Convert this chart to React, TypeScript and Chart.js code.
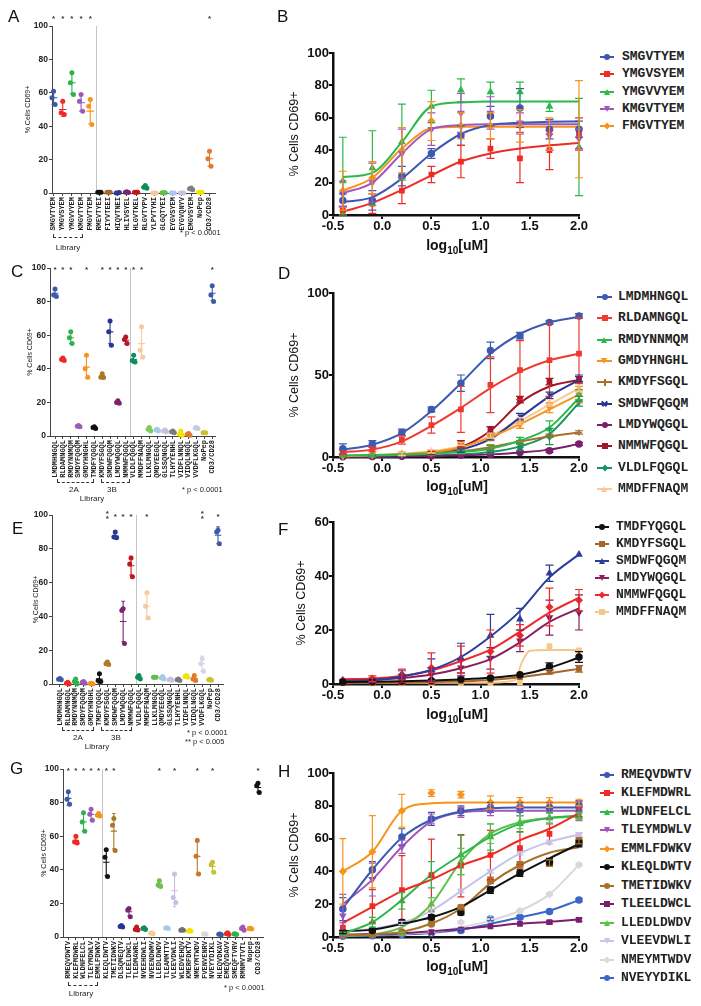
import React, { useEffect, useRef } from 'react';
import { Chart, registerables } from 'chart.js';

Chart.register(...registerables);

const SANS = "'Liberation Sans', Arial, Helvetica, sans-serif";
const MONO = "'Liberation Mono', 'Courier New', monospace";
Chart.defaults.font.family = SANS;

// ================= Scatter panels (A, C, E, G) =================
const aLabels = ['SMGVTYEM', 'YMGVSYEM', 'YMGVVYEM', 'KMGVTYEM', 'FMGVTYEM', 'RMEVTYEI', 'FIYVTEEI', 'HIQVTNEI', 'HLIVSYEL', 'HLGVTKEL', 'RLGVTYPV', 'YLPVTYHI', 'GLGQTYEI', 'EYGVSYEM', 'EYGVQNYV', 'EMGVSYEM', 'NoPep', 'CD3/CD28'];
const aColors = ['#3b5ba5', '#ee2a24', '#2db34a', '#9b5bb7', '#f7941d', '#111111', '#a86a2a', '#2b3a8f', '#7b2470', '#c4161c', '#0e8f5a', '#f9c99d', '#5fbf4a', '#a9c9ea', '#c8bfe3', '#808080', '#f0e500', '#e27a2c'];
const aMeans = [57, 50, 66, 54, 49, 0.5, 0.5, 0, 0.5, 0.5, 3.5, 0, 0.2, 0, 0, 2.5, 0.5, 20.5];
const aSD = [4, 4, 6.5, 5, 7.5, 0, 0, 0, 0, 0, 1, 0, 0, 0, 0, 0.7, 0, 4.5];
const aReps = [[61, 57, 53], [55, 48, 47], [72, 66, 59], [59, 55, 49], [56, 52, 41], [0.5, 0.5, 0.5], [0.5, 0.5, 0.5], [0, 0, 0.3], [0.8, 0.5, 0.3], [0.5, 0.5, 0.5], [4.5, 3.5, 2.8], [0, 0, 0], [0.2, 0.2, 0.2], [0, 0, 0], [0, 0, 0], [3, 2.5, 2], [0.5, 0.5, 0.5], [25, 20.5, 16]];
const aStars = [0, 1, 2, 3, 4, 17];

const ceLabels = ['LMDMHNGQL', 'RLDAMNGQL', 'RMDYNNMQM', 'SMDYFQGQM', 'GMDYHNGHL', 'TMDFYQGQL', 'KMDYFSGQL', 'SMDWFQGQM', 'LMDYWQGQL', 'NMMWFQGQL', 'VLDLFQGQL', 'MMDFFNAQM', 'LLKLMNGQL', 'QMDYEEGQL', 'GLSSQNGQL', 'TLHYYENHL', 'VIDFLNNQL', 'VIDQLNGQL', 'VVDFLKGQL', 'NoPep', 'CD3/CD28'];
const cColors = ['#3b5ba5', '#ee2a24', '#2db34a', '#9b5bb7', '#f7941d', '#111111', '#a8782a', '#283593', '#7b2470', '#b5162b', '#0e8f5a', '#f9c99d', '#7fcc5a', '#a9c9ea', '#c8bfe3', '#7a7a7a', '#f0e500', '#e27a2c', '#c8c8e0', '#c9c230', '#3b5ba5'];
const cMeans = [85, 46, 58.5, 5.8, 41, 5, 35.5, 62, 20, 57, 45.5, 55, 4, 3.5, 3, 2.5, 1.5, 1, 4.7, 2, 85];
const cSD = [2, 1, 3.5, 0.4, 6.5, 0.5, 1.2, 7, 0.6, 2.2, 2, 9, 1, 0.5, 0.5, 0.5, 1.2, 0.5, 0.4, 0.2, 4.5];
const cReps = [[87.5, 84, 83], [46.5, 45.5, 45], [62, 58.5, 55], [6.3, 5.8, 5.5], [48, 40, 35], [5.5, 5, 4.5], [37, 35, 34.8], [68.5, 62, 54], [21, 20, 19.5], [59, 57.5, 55], [48, 45, 44], [65, 51, 47], [5, 4, 3], [4, 3.5, 3], [3.5, 3, 2.5], [3, 2.5, 2], [3, 1, 0.5], [1.5, 1, 0.5], [5, 4.7, 4.5], [2, 2, 2], [89.5, 84, 80]];
const cStars = [0, 1, 2, 4, 6, 7, 8, 9, 10, 11, 20];

const eColors = ['#3b5ba5', '#ee2a24', '#2db34a', '#9b5bb7', '#f7941d', '#111111', '#b07a22', '#2b3990', '#7b2470', '#c4161c', '#0e8f5a', '#f9c99d', '#5fbf4a', '#a9c9ea', '#c8bfe3', '#7a7a7a', '#f0e500', '#e07b2a', '#d6d6e6', '#c9c230', '#3b5ba5'];
const eMeans = [3, 0.5, 1.5, 1, 0.3, 3, 12, 87.5, 37, 70, 4, 46, 4, 3.7, 2.5, 2.5, 4.5, 3.3, 12, 2.5, 88];
const eSD = [0.4, 0.5, 1.5, 0.6, 0.3, 2.5, 0.6, 1.5, 12, 5.5, 1, 7.5, 0.3, 0.8, 0.4, 0.5, 0.5, 1.5, 4.5, 0.5, 5];
const eReps = [[3.2, 2.8, 2.5], [1, 0.5, 0], [3, 1.5, 0], [1.5, 1, 0.5], [0.5, 0.3, 0], [6, 2, 1.5], [13, 12, 11.5], [90, 87, 86.5], [44.5, 43.5, 24], [74.5, 71, 63.5], [5, 4, 3], [54, 46, 39], [4, 4, 4], [4.5, 3.5, 3], [3, 2.5, 2.2], [3, 2.5, 2], [5, 4.5, 4], [5, 3, 2], [15, 12, 7.5], [2.8, 2.5, 2.2], [91, 90, 83]];
const eStars = [7, 8, 9, 11, 20];
const eDoubleStars = [6, 18];

const gLabels = ['RMEQVDWTV', 'KLEFMDWRL', 'WLDNFELCL', 'TLEYMDWLV', 'EMMLFDWKV', 'KLEQLDWTV', 'TMETIDWKV', 'DLSQMEQTV', 'TLEELDWCL', 'TLEDMAWRL', 'NVEEHDWLI', 'NVEENDWMV', 'LLEDLDWDV', 'TLEAMMTTV', 'VLEEVDWLI', 'WLEDVEHQV', 'KMERFDKTV', 'NMEYMTWDV', 'FVENVENRV', 'NVEYYDIKL', 'HLEQVDKAV', 'EMEQVDAVV', 'SMEQFTVRV', 'RMNMVTVTL', 'Nopep', 'CD3/CD28'];
const gColors = ['#3b5ba5', '#ee2a24', '#2db34a', '#9b5bb7', '#f7941d', '#111111', '#a8782a', '#283593', '#7b2470', '#c4161c', '#0e8f5a', '#f9c99d', '#6cc04a', '#a9c9ea', '#c8bfe3', '#707070', '#f0e500', '#c8762a', '#d8d8d8', '#c9c230', '#3b5ba5', '#ee2a24', '#2db34a', '#9b5bb7', '#f7941d', '#111111'];
const gMeans = [82.5, 57.5, 68.5, 73, 72.5, 44.5, 63, 6.3, 15, 5, 5, 2.2, 31.5, 5.3, 27.5, 4.2, 3.7, 48, 1.8, 42, 1.6, 2, 1.8, 5, 5, 89];
const gSD = [4, 1.5, 5.5, 3.5, 0.8, 8, 10.5, 0.4, 2.5, 1, 0.6, 0.3, 2, 0.3, 9.5, 0.4, 0.4, 10.5, 0.2, 3, 0.3, 0.5, 0.3, 1, 0.2, 2.7];
const gReps = [[86.5, 82, 79], [60, 56.5, 56], [74, 68.5, 63], [76, 73, 69.5], [73.5, 72.5, 72], [52, 47.5, 36], [70.5, 66.5, 51.5], [6.8, 6.3, 6], [17, 16, 12], [6, 4.5, 4.2], [5.5, 5, 4.5], [2.5, 2.2, 2], [33.5, 31, 30], [5.5, 5.4, 5], [37.5, 23.5, 20.5], [4.5, 4, 4], [4, 3.6, 3.4], [57.5, 48, 37.5], [2, 1.8, 1.6], [44.5, 43, 38.5], [1.8, 1.6, 1.4], [2.6, 2, 1.5], [2, 1.8, 1.5], [6, 5, 4], [5.2, 5, 4.8], [91.5, 90, 86]];
const gStars = [0, 1, 2, 3, 4, 5, 6, 12, 14, 17, 19, 25];

// ================= Dose-response panels (B, D, F, H) =================
const doseX = [-0.4, -0.1, 0.2, 0.5, 0.8, 1.1, 1.4, 1.7, 2.0];

const bNames = ['SMGVTYEM', 'YMGVSYEM', 'YMGVVYEM', 'KMGVTYEM', 'FMGVTYEM'];
const bColors = ['#3c58b0', '#ee2b24', '#2db84b', '#a256c0', '#f7941e'];
const bMarkers = ['circle', 'rect', 'triangle', 'triangleDown', 'rectRot'];
const bFits = [
  [8, 11, 22.5, 38, 50, 55.5, 57, 57.5, 57.7],
  [2, 7.5, 15.5, 24.5, 33, 38, 41, 43, 44.5],
  [23.5, 26, 45, 67, 69.5, 70, 70, 70, 70],
  [13.5, 20, 38, 53, 55.5, 56, 56, 56, 56],
  [15, 23, 41, 53.5, 54.5, 54.5, 54.5, 54.5, 54.5],
];
const bMeans = [
  [9, 9, 24, 38, 49, 61, 66, 53, 53],
  [2.5, 7, 15, 25, 33, 41, 35, 40, 50],
  [21, 29, 45, 67, 77, 76, 76, 67, 42],
  [13, 20, 38, 53, 63, 63, 57, 49, 47],
  [15, 23, 40, 58, 55, 55, 55, 50, 53],
];
const bSD = [
  [4, 6, 6, 3, 6, 6, 12, 6, 5],
  [3, 6, 8, 5, 10, 6, 15, 12, 10],
  [27, 23, 23.5, 10, 7, 6, 6, 3, 30],
  [8, 12, 15, 10, 12, 10, 6, 9, 6],
  [12, 10, 14, 12, 8, 8, 10, 10, 30],
];

const dNames = ['LMDMHNGQL', 'RLDAMNGQL', 'RMDYNNMQM', 'GMDYHNGHL', 'KMDYFSGQL', 'SMDWFQGQM', 'LMDYWQGQL', 'NMMWFQGQL', 'VLDLFQGQL', 'MMDFFNAQM'];
const dColors = ['#3c5bb0', '#ee3a30', '#2db84b', '#f7941e', '#a8702a', '#283593', '#7b1e6e', '#a3162a', '#1a9460', '#f8c99c'];
const dMarkers = ['circle', 'rect', 'triangle', 'triangleDown', 'cross', 'crossRot', 'circle', 'rect', 'rectRot', 'triangle'];
const dFits = [
  [4.5, 7.5, 14.5, 28, 45, 63, 75, 82, 85.5],
  [3, 4.5, 9.5, 19, 30, 42, 52, 59, 63],
  [1, 1.2, 1.5, 2, 3, 5, 10, 18, 36],
  [0.5, 1, 1.8, 3, 6, 12, 20, 29, 38],
  [0.5, 0.8, 1.3, 2, 3.5, 6, 9.5, 12.5, 15],
  [0.3, 0.5, 1, 2, 4.5, 11, 24, 37, 47],
  [0.2, 0.3, 0.4, 0.6, 1, 1.6, 2.8, 4.5, 8],
  [0.5, 0.7, 1, 2.5, 6, 16, 33, 43, 47],
  [0.2, 0.3, 0.5, 0.8, 1.5, 3, 6.5, 14, 33],
  [0.5, 1, 2, 3.5, 6.5, 13, 22, 32, 42],
];
const dMeans = [
  [5, 8, 15, 29, 45, 65, 74, 82, 86],
  [2.8, 4.7, 10.4, 19.5, 29, 44, 53, 59, 63],
  [1, 1, 1.5, 2, 3, 5.5, 10, 17, 38],
  [0.5, 1, 2, 3, 7, 12, 19.5, 30, 38],
  [0.5, 1, 1.3, 2, 3.5, 6, 9, 13, 15],
  [0.3, 0.5, 1, 2, 4, 12.4, 24.6, 37.6, 48],
  [0.2, 0.3, 0.4, 0.6, 1, 1.5, 2.8, 3.8, 8],
  [0.5, 0.8, 1.2, 2.5, 8, 16.5, 35, 46, 47],
  [0.3, 0.3, 0.5, 1, 1.5, 3, 6, 12.5, 34],
  [0.5, 1, 2, 3.5, 8, 13, 22, 33, 42],
];
const dSD = [
  [3, 2, 2, 1.5, 5, 5, 2, 1, 1.5],
  [1, 1.5, 2.5, 5, 14, 17, 18, 22, 22],
  [0.5, 0.5, 0.5, 1, 1, 2, 2, 5, 3],
  [0.5, 0.5, 1, 1, 2, 2, 2, 3, 5],
  [0.3, 0.3, 0.3, 0.5, 0.5, 1, 1, 1, 1],
  [0.3, 0.3, 0.5, 0.5, 1, 2, 2, 2, 2],
  [0.2, 0.2, 0.2, 0.3, 0.3, 0.5, 0.5, 1, 1],
  [0.5, 0.5, 0.5, 1, 2, 2, 2, 2, 2],
  [0.2, 0.2, 0.3, 0.5, 0.5, 1, 2, 5, 3],
  [0.5, 0.5, 1, 1, 1, 1.5, 2, 2, 2],
];

const fNames = ['TMDFYQGQL', 'KMDYFSGQL', 'SMDWFQGQM', 'LMDYWQGQL', 'NMMWFQGQL', 'MMDFFNAQM'];
const fColors = ['#111111', '#a8642a', '#2e3d9a', '#8a1e5e', '#ee2b2b', '#f5c88a'];
const fMarkers = ['circle', 'rect', 'triangle', 'triangleDown', 'rectRot', 'rect'];
const fFits = [
  [0.7, 0.8, 1, 1.3, 1.7, 2.3, 3.4, 6, 9.8],
  [0.3, 0.4, 0.5, 0.7, 1, 1.5, 2.5, 4, 5.6],
  [1, 1.5, 2.8, 5.3, 10, 17.6, 27, 39.5, 48],
  [1.2, 1.5, 2.2, 3.5, 5.8, 9.2, 15.4, 23, 28],
  [1.8, 2, 3, 5, 8.5, 12.7, 19.4, 26.4, 32],
  [0.5, 0.5, 1.5, 8, 12.3, 12.6, 12.6],
];
const fFitX = [null, null, null, null, null, [-0.4, 1.1, 1.35, 1.42, 1.5, 1.7, 2.0]];
const fMeans = [
  [0.7, 0.8, 1, 1.2, 1.8, 2.2, 3.4, 6.5, 10],
  [0.3, 0.4, 0.5, 0.7, 1, 1.5, 2.5, 4.5, 5.6],
  [1, 1.3, 3.4, 5.3, 9.6, 18, 24, 41, 48],
  [1, 1.3, 2, 3.5, 6, 9.5, 16, 24.6, 26.5],
  [1.5, 2, 3.5, 6, 9, 12, 18, 28.5, 31],
  [0.2, 0.2, 0.2, 0.2, 0.3, 0.3, 0.5, 14, 12.5],
];
const fSD = [
  [0.2, 0.2, 0.2, 0.2, 0.3, 0.3, 0.5, 1.3, 2],
  [0.2, 0.2, 0.2, 0.2, 0.3, 0.3, 0.5, 0.8, 1.2],
  [0.5, 0.5, 1.5, 4, 5.5, 7.8, 4, 3, 0.5],
  [0.5, 0.8, 1.5, 2.5, 3, 4, 4, 6.5, 6.5],
  [0.5, 1, 2, 5.5, 5, 8, 4, 7, 4],
  [0, 0, 0, 0, 0, 0, 0, 0, 0],
];

const hNames = ['RMEQVDWTV', 'KLEFMDWRL', 'WLDNFELCL', 'TLEYMDWLV', 'EMMLFDWKV', 'KLEQLDWTV', 'TMETIDWKV', 'TLEELDWCL', 'LLEDLDWDV', 'VLEEVDWLI', 'NMEYMTWDV', 'NVEYYDIKL'];
const hColors = ['#3c58b0', '#ee2b24', '#2db84b', '#a256c0', '#f7941e', '#111111', '#a8702a', '#7b1e6e', '#5cc24a', '#c6c4ec', '#d9d9d9', '#3c67c8'];
const hMarkers = ['circle', 'rect', 'triangle', 'triangleDown', 'rectRot', 'circle', 'circle', 'rect', 'triangle', 'triangleDown', 'rectRot', 'circle'];
const hFits = [
  [17.5, 41, 60.5, 71.5, 76.5, 78.5, 79, 79, 79],
  [8.6, 18.4, 28, 35, 43.5, 50, 59, 66, 75.5],
  [2, 9, 22.5, 38, 50, 61, 69, 72.5, 74],
  [20, 35, 55, 70.5, 76, 77, 77, 77, 77],
  [40, 52, 77, 81.5, 82, 82, 82, 82, 82],
  [3.5, 4.5, 8, 12, 18.4, 28.6, 38.8, 48, 56.7],
  [1.2, 1.6, 3.1, 8.2, 17.4, 32.7, 43.9, 51.4, 54.7],
  [1.5, 1.8, 2.2, 3.5, 5, 6.5, 8.2, 9.2, 10.7],
  [0.5, 1.5, 6, 20, 46, 63, 70, 72.5, 73.5],
  [3, 5, 8.5, 16, 28, 40, 51, 58, 62.5],
  [1, 1.5, 2, 3, 6, 10, 16, 26, 44],
  [0.5, 0.8, 1.5, 2.5, 4.5, 8, 12, 16, 22.5],
];
const hMeans = [
  [17, 41, 61, 72, 77, 79, 79, 79, 80],
  [5.7, 18.9, 28.6, 37.7, 43.5, 50, 54.2, 62.9, 76.5],
  [2, 9, 22, 38, 50, 61, 69, 72.5, 74],
  [13, 35, 55, 72, 76, 77, 77, 77, 77],
  [40, 52, 77, 87.8, 86.8, 82, 82, 82, 82],
  [3, 4, 9, 12, 15, 28.6, 39, 46, 57],
  [1, 1.5, 3, 8, 18, 34.5, 44, 45, 58.8],
  [1, 1.5, 2, 3, 4.5, 6.5, 8, 9, 10.5],
  [0.5, 1.5, 2, 20, 46, 63, 70, 72.5, 73.5],
  [3, 5, 8.5, 16, 28, 40, 51, 58, 62.5],
  [1, 1.5, 2, 3, 9, 11, 16, 26, 44],
  [0.5, 0.8, 1.5, 2.5, 4, 11, 12, 15.5, 22.5],
];
const hSD = [
  [7, 5, 5, 4, 3, 3, 3, 3, 3],
  [3, 10, 21, 22, 19, 15, 10, 6, 3],
  [1, 3, 5, 8, 12, 8, 5, 3, 2],
  [13, 10, 4, 3, 3, 3, 3, 5, 6],
  [20, 22, 10, 2, 2, 4, 3, 3, 2],
  [1, 1, 1.5, 1.5, 1.5, 2, 2, 2, 2],
  [0.5, 0.5, 0.5, 1, 1.5, 2, 2, 2, 2],
  [0.5, 0.5, 0.5, 0.5, 0.5, 0.5, 0.5, 1, 1],
  [0.5, 0.5, 1, 4, 8, 6, 4, 3, 2],
  [0.5, 0.5, 1, 1, 1, 1, 1, 1, 1],
  [0.5, 0.5, 0.5, 0.5, 1, 1, 1, 1, 1],
  [0.5, 0.5, 0.5, 0.5, 1, 1, 1, 1, 1],
];

// ================= helpers =================
type Box = { l: number; t: number; w: number; h: number };
type Area = { l: number; t: number; r: number; b: number };

function pad(box: Box, area: Area, wy: number, hx: number) {
  return {
    left: area.l - box.l - wy,
    top: area.t - box.t,
    right: box.l + box.w - area.r,
    bottom: box.t + box.h - area.b - hx,
  };
}

type ScatterSpec = {
  labels: string[]; colors: string[]; means: number[]; sds: number[]; reps: number[][];
  stars: number[]; dstars?: number[]; starDy: number; divider: number;
  xMin: number; xMax: number; box: Box; area: Area; wy: number; hx: number;
};

function scatterConfig(s: ScatterSpec): any {
  const jit = [0, -0.17, 0.17];
  const pts: any[] = [];
  const cols: string[] = [];
  s.reps.forEach((r, i) => r.forEach((v, j) => { pts.push({ x: i + jit[j], y: v }); cols.push(s.colors[i]); }));
  const overlay = {
    id: 'overlay',
    beforeDatasetsDraw(chart: any) {
      const { ctx, chartArea, scales } = chart;
      const xp = scales.x.getPixelForValue(s.divider);
      ctx.save();
      ctx.strokeStyle = '#c4c4c4';
      ctx.lineWidth = 1;
      ctx.beginPath();
      ctx.moveTo(Math.round(xp) + 0.5, chartArea.top);
      ctx.lineTo(Math.round(xp) + 0.5, chartArea.bottom);
      ctx.stroke();
      ctx.restore();
    },
    afterDatasetsDraw(chart: any) {
      const { ctx, chartArea, scales } = chart;
      const x = scales.x, y = scales.y;
      ctx.save();
      ctx.lineWidth = 1.1;
      s.means.forEach((m, i) => {
        const px = x.getPixelForValue(i);
        const hw = x.getPixelForValue(i + 0.42) - px;
        const cw = x.getPixelForValue(i + 0.22) - px;
        const py = y.getPixelForValue(m);
        const hi = y.getPixelForValue(Math.min(100, m + s.sds[i]));
        const lo = y.getPixelForValue(Math.max(0, m - s.sds[i]));
        ctx.strokeStyle = s.colors[i];
        ctx.beginPath();
        ctx.moveTo(px - hw, py); ctx.lineTo(px + hw, py);
        if (s.sds[i] > 0.6) {
          ctx.moveTo(px, hi); ctx.lineTo(px, lo);
          ctx.moveTo(px - cw, hi); ctx.lineTo(px + cw, hi);
          ctx.moveTo(px - cw, lo); ctx.lineTo(px + cw, lo);
        }
        ctx.stroke();
      });
      ctx.fillStyle = '#333';
      ctx.font = `bold 8px ${SANS}`;
      ctx.textAlign = 'center';
      ctx.textBaseline = 'middle';
      const sy = chartArea.top + s.starDy + 2;
      s.stars.forEach((i) => ctx.fillText('*', x.getPixelForValue(i), sy));
      (s.dstars || []).forEach((i) => {
        ctx.fillText('*', x.getPixelForValue(i), sy - 3);
        ctx.fillText('*', x.getPixelForValue(i), sy + 2);
      });
      ctx.restore();
    },
  };
  return {
    type: 'scatter',
    data: {
      datasets: [{
        data: pts, pointBackgroundColor: cols, pointBorderColor: cols,
        pointRadius: 2.5, pointBorderWidth: 0, clip: false,
      }],
    },
    options: {
      responsive: false, animation: false,
      layout: { padding: pad(s.box, s.area, s.wy, s.hx) },
      plugins: { legend: { display: false }, tooltip: { enabled: false } },
      scales: {
        x: {
          type: 'linear', min: s.xMin, max: s.xMax,
          afterBuildTicks: (sc: any) => { sc.ticks = s.labels.map((_, i) => ({ value: i })); },
          afterFit: (sc: any) => { sc.height = s.hx; },
          ticks: {
            autoSkip: false, maxRotation: 90, minRotation: 90, padding: 1, color: '#222',
            font: { family: MONO, size: 7, weight: 'bold' },
            callback: (v: any) => s.labels[Math.round(Number(v))] ?? '',
          },
          grid: { display: true, drawOnChartArea: false, drawTicks: true, tickLength: 3, color: '#444', lineWidth: 1 },
          border: { display: true, color: '#444', width: 1 },
        },
        y: {
          type: 'linear', min: 0, max: 100,
          afterFit: (sc: any) => { sc.width = s.wy; },
          ticks: { stepSize: 20, padding: 1, color: '#222', font: { size: 8.5, weight: 'bold' } },
          grid: { display: true, drawOnChartArea: false, drawTicks: true, tickLength: 3, color: '#444', lineWidth: 1 },
          border: { display: true, color: '#444', width: 1 },
          title: { display: true, text: '% Cells CD69+', color: '#222', font: { size: 7 }, padding: 0 },
        },
      },
    },
    plugins: [overlay],
  };
}

type CurveSpec = {
  names: string[]; colors: string[]; markers: string[]; fits: number[][]; fitX?: (number[] | null)[];
  means: number[][]; sds: number[][]; yMax: number; yStep: number; cap: number;
  box: Box; area: Area; wy: number; hx: number;
};

function styleOf(m: string) {
  if (m === 'triangleDown') return { pointStyle: 'triangle', rotation: 180 };
  return { pointStyle: m, rotation: 0 };
}

function curveConfig(c: CurveSpec): any {
  const datasets: any[] = [];
  c.names.forEach((n, i) => {
    const fx = (c.fitX && c.fitX[i]) || doseX;
    datasets.push({
      label: n, data: fx.map((x, j) => ({ x, y: c.fits[i][j] })),
      borderColor: c.colors[i], borderWidth: 2, pointRadius: 0, fill: false,
      cubicInterpolationMode: 'monotone', order: 2, clip: false,
    });
    const st = styleOf(c.markers[i]);
    datasets.push({
      label: n + ' mean', data: doseX.map((x, j) => ({ x, y: c.means[i][j] })),
      showLine: false, pointRadius: 3, pointStyle: st.pointStyle, rotation: st.rotation,
      pointBackgroundColor: c.colors[i], pointBorderColor: c.colors[i], pointBorderWidth: 1.5,
      order: 1, clip: false,
    });
  });
  const errPlugin = {
    id: 'errbars',
    afterDatasetsDraw(chart: any) {
      const { ctx, scales } = chart;
      const x = scales.x, y = scales.y;
      ctx.save();
      ctx.lineWidth = 1.2;
      c.names.forEach((_, i) => {
        ctx.strokeStyle = c.colors[i];
        doseX.forEach((dx, j) => {
          const sd = c.sds[i][j];
          if (sd < 0.6) return;
          const m = c.means[i][j];
          const px = x.getPixelForValue(dx);
          const hi = y.getPixelForValue(Math.min(c.yMax, m + sd));
          const lo = y.getPixelForValue(Math.max(0, m - sd));
          ctx.beginPath();
          ctx.moveTo(px, hi); ctx.lineTo(px, lo);
          ctx.moveTo(px - c.cap, hi); ctx.lineTo(px + c.cap, hi);
          ctx.moveTo(px - c.cap, lo); ctx.lineTo(px + c.cap, lo);
          ctx.stroke();
        });
      });
      ctx.restore();
    },
  };
  return {
    type: 'line',
    data: { datasets },
    options: {
      responsive: false, animation: false,
      layout: { padding: pad(c.box, c.area, c.wy, c.hx) },
      plugins: { legend: { display: false }, tooltip: { enabled: false } },
      scales: {
        x: {
          type: 'linear', min: -0.5, max: 2,
          afterFit: (sc: any) => { sc.height = c.hx; },
          ticks: { stepSize: 0.5, padding: 0, maxRotation: 0, color: '#111', font: { size: 13, weight: 'bold' }, callback: (v: any) => Number(v).toFixed(1) },
          grid: { display: true, drawOnChartArea: false, drawTicks: true, tickLength: 4, color: '#111', lineWidth: 2 },
          border: { display: true, color: '#111', width: 2.5 },
        },
        y: {
          type: 'linear', min: 0, max: c.yMax,
          afterFit: (sc: any) => { sc.width = c.wy; },
          ticks: { stepSize: c.yStep, padding: 0, color: '#111', font: { size: 13, weight: 'bold' } },
          grid: { display: true, drawOnChartArea: false, drawTicks: true, tickLength: 4, color: '#111', lineWidth: 2 },
          border: { display: true, color: '#111', width: 2.5 },
          title: { display: true, text: '% Cells CD69+', color: '#111', font: { size: 12.5 }, padding: 0 },
        },
      },
    },
    plugins: [errPlugin],
  };
}

function ChartBox({ box, make }: { box: Box; make: () => any }) {
  const ref = useRef<HTMLCanvasElement>(null);
  useEffect(() => {
    const chart = new Chart(ref.current as HTMLCanvasElement, make());
    return () => chart.destroy();
  }, []);
  return (
    <canvas ref={ref} width={box.w} height={box.h}
      style={{ position: 'absolute', left: box.l, top: box.t, width: box.w, height: box.h }} />
  );
}

function Txt({ x, y, size = 8, center = false, weight = 'normal', family = SANS, children }: any) {
  return (
    <div style={{
      position: 'absolute', left: x, top: y, transform: center ? 'translate(-50%,-50%)' : 'translateY(-50%)',
      font: `${weight} ${size}px ${family}`, lineHeight: 1.15, whiteSpace: 'nowrap', color: '#222',
    }}>{children}</div>
  );
}

function Bracket({ l, r, y }: { l: number; r: number; y: number }) {
  return (
    <div style={{
      position: 'absolute', left: l, top: y - 4, width: r - l, height: 4, boxSizing: 'border-box',
      borderBottom: '1px dashed #333', borderLeft: '1px solid #333', borderRight: '1px solid #333',
    }} />
  );
}

function Marker({ shape, color, cx, cy }: { shape: string; color: string; cx: number; cy: number }) {
  const s = 6;
  const base: any = { position: 'absolute', left: cx - s / 2, top: cy - s / 2, width: s, height: s };
  if (shape === 'circle') return <div style={{ ...base, borderRadius: '50%', background: color }} />;
  if (shape === 'rect') return <div style={{ ...base, background: color }} />;
  if (shape === 'rectRot') return <div style={{ ...base, background: color, transform: 'rotate(45deg) scale(0.8)' }} />;
  if (shape === 'triangle' || shape === 'triangleDown') {
    const down = shape === 'triangleDown';
    return <div style={{
      position: 'absolute', left: cx - 3.5, top: cy - 3, width: 0, height: 0,
      borderLeft: '3.5px solid transparent', borderRight: '3.5px solid transparent',
      [down ? 'borderTop' : 'borderBottom']: `6px solid ${color}`,
    }} />;
  }
  const rot = shape === 'crossRot' ? 'rotate(45deg)' : 'none';
  return (
    <div style={{ ...base, width: 7, height: 7, left: cx - 3.5, top: cy - 3.5, transform: rot }}>
      <div style={{ position: 'absolute', left: 0, top: 3, width: 7, height: 1.5, background: color }} />
      <div style={{ position: 'absolute', left: 3, top: 0, width: 1.5, height: 7, background: color }} />
    </div>
  );
}

function Legend({ names, colors, markers, lineX, lineW, textX, y0, dy }: any) {
  return (
    <>
      {names.map((n: string, i: number) => {
        const y = y0 + i * dy;
        return (
          <React.Fragment key={n + i}>
            <div style={{ position: 'absolute', left: lineX, top: y - 1, width: lineW, height: 2, background: colors[i] }} />
            <Marker shape={markers[i]} color={colors[i]} cx={lineX + lineW / 2} cy={y} />
            <Txt x={textX} y={y} size={13} weight="bold" family={MONO}>{n}</Txt>
          </React.Fragment>
        );
      })}
    </>
  );
}

function XTitle({ x, y }: { x: number; y: number }) {
  return (
    <div style={{
      position: 'absolute', left: x, top: y, transform: 'translate(-50%,-50%)',
      font: `bold 14px ${SANS}`, whiteSpace: 'nowrap', color: '#111', lineHeight: 1,
    }}>log<sub style={{ fontSize: 10 }}>10</sub>[uM]</div>
  );
}

function Letter({ x, y, children }: any) {
  return <div style={{ position: 'absolute', left: x, top: y, font: `17px ${SANS}`, lineHeight: '17px', color: '#111' }}>{children}</div>;
}

// ================= layout =================
const boxA: Box = { l: 0, t: 0, w: 230, h: 240 };
const areaA: Area = { l: 52, t: 26, r: 215, b: 193 };
const boxC: Box = { l: 0, t: 245, w: 230, h: 240 };
const areaC: Area = { l: 50, t: 268, r: 215, b: 436 };
const boxE: Box = { l: 0, t: 495, w: 235, h: 240 };
const areaE: Area = { l: 52, t: 515, r: 223, b: 684 };
const boxG: Box = { l: 0, t: 750, w: 275, h: 240 };
const areaG: Area = { l: 63, t: 769, r: 263, b: 937 };

const boxB: Box = { l: 270, t: 30, w: 325, h: 215 };
const areaB: Area = { l: 333, t: 53, r: 579, b: 215 };
const boxD: Box = { l: 270, t: 275, w: 325, h: 215 };
const areaD: Area = { l: 333, t: 293, r: 579, b: 457 };
const boxF: Box = { l: 270, t: 500, w: 325, h: 215 };
const areaF: Area = { l: 333, t: 522, r: 579, b: 684 };
const boxH: Box = { l: 270, t: 750, w: 325, h: 220 };
const areaH: Area = { l: 333, t: 773, r: 579, b: 937 };

export default function App() {
  return (
    <div style={{ position: 'absolute', left: 0, top: 0, width: 701, height: 1006, background: '#fff', overflow: 'hidden' }}>
      <ChartBox box={boxA} make={() => scatterConfig({ labels: aLabels, colors: aColors, means: aMeans, sds: aSD, reps: aReps, stars: aStars, starDy: -9, divider: 4.64, xMin: -0.17, xMax: 17.6, box: boxA, area: areaA, wy: 28, hx: 45 })} />
      <ChartBox box={boxC} make={() => scatterConfig({ labels: ceLabels, colors: cColors, means: cMeans, sds: cSD, reps: cReps, stars: cStars, starDy: 0, divider: 9.54, xMin: -0.64, xMax: 20.35, box: boxC, area: areaC, wy: 24, hx: 45 })} />
      <ChartBox box={boxE} make={() => scatterConfig({ labels: ceLabels, colors: eColors, means: eMeans, sds: eSD, reps: eReps, stars: eStars, dstars: eDoubleStars, starDy: 0, divider: 9.64, xMin: -1.0, xMax: 20.63, box: boxE, area: areaE, wy: 20, hx: 45 })} />
      <ChartBox box={boxG} make={() => scatterConfig({ labels: gLabels, colors: gColors, means: gMeans, sds: gSD, reps: gReps, stars: gStars, starDy: 0, divider: 4.4, xMin: -0.7, xMax: 25.66, box: boxG, area: areaG, wy: 23, hx: 45 })} />

      <ChartBox box={boxB} make={() => curveConfig({ names: bNames, colors: bColors, markers: bMarkers, fits: bFits, means: bMeans, sds: bSD, yMax: 100, yStep: 20, cap: 4, box: boxB, area: areaB, wy: 45.5, hx: 30 })} />
      <ChartBox box={boxD} make={() => curveConfig({ names: dNames, colors: dColors, markers: dMarkers, fits: dFits, means: dMeans, sds: dSD, yMax: 100, yStep: 50, cap: 4, box: boxD, area: areaD, wy: 45.5, hx: 30 })} />
      <ChartBox box={boxF} make={() => curveConfig({ names: fNames, colors: fColors, markers: fMarkers, fits: fFits, fitX: fFitX, means: fMeans, sds: fSD, yMax: 60, yStep: 20, cap: 4, box: boxF, area: areaF, wy: 38.5, hx: 30 })} />
      <ChartBox box={boxH} make={() => curveConfig({ names: hNames, colors: hColors, markers: hMarkers, fits: hFits, means: hMeans, sds: hSD, yMax: 100, yStep: 20, cap: 3.5, box: boxH, area: areaH, wy: 45.5, hx: 30 })} />

      <Letter x={8} y={8}>A</Letter>
      <Letter x={277} y={8}>B</Letter>
      <Letter x={11} y={263}>C</Letter>
      <Letter x={278} y={265}>D</Letter>
      <Letter x={12} y={520}>E</Letter>
      <Letter x={278} y={521}>F</Letter>
      <Letter x={10} y={760}>G</Letter>
      <Letter x={278} y={763}>H</Letter>

      {/* Panel A notes */}
      <Bracket l={53} r={83} y={238} />
      <Txt x={68} y={248} center size={8}>Library</Txt>
      <Txt x={180} y={233} size={7.5}>* p &lt; 0.0001</Txt>

      {/* Panel C notes */}
      <Bracket l={57} r={94} y={483} />
      <Bracket l={101} r={130} y={483} />
      <Txt x={74} y={490} center size={8}>2A</Txt>
      <Txt x={112} y={490} center size={8}>3B</Txt>
      <Txt x={92} y={499} center size={8}>Library</Txt>
      <Txt x={182} y={490} size={7.5}>* p &lt; 0.0001</Txt>

      {/* Panel E notes */}
      <Bracket l={62} r={94} y={731} />
      <Bracket l={101} r={132} y={731} />
      <Txt x={78} y={738} center size={8}>2A</Txt>
      <Txt x={116} y={738} center size={8}>3B</Txt>
      <Txt x={97} y={747} center size={8}>Library</Txt>
      <Txt x={187} y={733} size={7.5}>* p &lt; 0.0001</Txt>
      <Txt x={185} y={742} size={7.5}>** p &lt; 0.005</Txt>

      {/* Panel G notes */}
      <Bracket l={68} r={98} y={986} />
      <Txt x={81} y={994} center size={8}>Library</Txt>
      <Txt x={224} y={988} size={7.5}>* p &lt; 0.0001</Txt>

      <XTitle x={457} y={247} />
      <XTitle x={457} y={488} />
      <XTitle x={457} y={716} />
      <XTitle x={457} y={968} />

      <Legend names={bNames} colors={bColors} markers={bMarkers} lineX={600} lineW={14} textX={622} y0={57} dy={17.25} />
      <Legend names={dNames} colors={dColors} markers={dMarkers} lineX={597} lineW={15} textX={618} y0={297} dy={21.33} />
      <Legend names={fNames} colors={fColors} markers={fMarkers} lineX={595} lineW={14} textX={616} y0={527} dy={17} />
      <Legend names={hNames} colors={hColors} markers={hMarkers} lineX={600} lineW={14} textX={621} y0={775} dy={18.45} />
    </div>
  );
}
